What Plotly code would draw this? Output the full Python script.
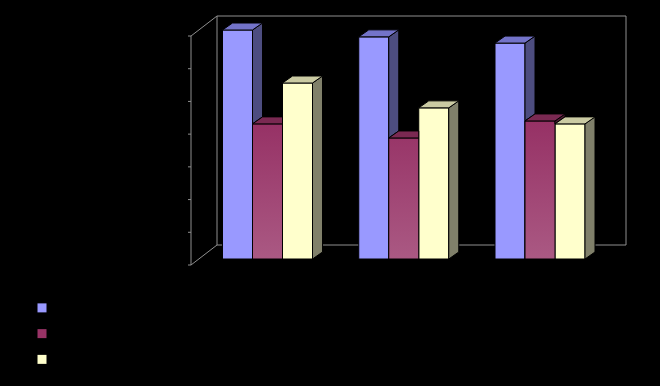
import plotly.graph_objects as go

# ---------------- data ----------------
categories = ["Category 1", "Category 2", "Category 3"]
series_names = ["Series 1", "Series 2", "Series 3"]
series1 = [70.0, 67.9, 66.0]
series2 = [41.3, 37.0, 42.2]
series3 = [53.8, 46.2, 41.3]
y_ticks = [0, 10, 20, 30, 40, 50, 60, 70]

# ---------------- style ----------------
front_colors = ["#9999ff", "#993366", "#ffffcc"]
top_colors = ["#7373c9", "#7a2952", "#cbcba3"]
side_colors = ["#4d4d80", "#4d1a33", "#80806a"]
wall_color = "#8f8f8f"

W, H = 660, 386
PXX = 136.25          # pixels per category unit
PXY = 229.0 / 70.0    # pixels per value unit
X0_PX = 267.5         # pixel x of category 0 centre
Y0_PX = 259.0         # pixel y of value 0 (bar base)

BAR_W = 30.0 / PXX
DX = 10.0 / PXX       # depth offset (x)
DY = 7.0 / PXY        # depth offset (y)

# wall geometry (relative to bar depth)
FRONT_DX, FRONT_DY = (191 - X0_PX) / PXX, -6.0 / PXY
BACK_DX, BACK_DY = (217 - X0_PX) / PXX, 14.0 / PXY
RIGHT_X = (626 - X0_PX) / PXX
VMAX = y_ticks[-1]

series = [series1, series2, series3]
xs = list(range(len(categories)))

fig = go.Figure()

# front faces as bars
for i, vals in enumerate(series):
    fig.add_trace(go.Bar(
        x=xs, y=vals, width=BAR_W, offset=(-1.5 + i) * BAR_W,
        marker=dict(color=front_colors[i], line=dict(color="black", width=1)),
        name=series_names[i], showlegend=False, hoverinfo="skip"))

# gradient overlay for the second series' front faces
gx, gy = [], []
for k in xs:
    xl = k + (-1.5 + 1) * BAR_W
    xr = xl + BAR_W
    h = series2[k]
    gx += [xl, xr, xr, xl, xl, None]
    gy += [0, 0, h, h, 0, None]
fig.add_trace(go.Scatter(
    x=gx, y=gy, mode="lines", fill="toself",
    fillgradient=dict(type="vertical", start=0, stop=max(series2),
                      colorscale=[[0, "#aa5983"], [1, "#963165"]]),
    line=dict(color="black", width=1), showlegend=False, hoverinfo="skip"))

# 3-D side and top faces (clipped by the neighbouring bar in front-right)
for k in xs:
    for i in range(len(series)):
        h = series[i][k]
        xl = k + (-1.5 + i) * BAR_W
        xr = xl + BAR_W
        hn = series[i + 1][k] if i + 1 < len(series) else None
        # side face
        if hn is None:
            sx = [xr, xr + DX, xr + DX, xr, xr]
            sy = [0, DY, h + DY, h, 0]
        elif h > hn:
            sx = [xr, xr + DX, xr + DX, xr, xr]
            sy = [hn, hn + DY, h + DY, h, hn]
        else:
            sx = sy = None
        if sx is not None:
            fig.add_trace(go.Scatter(
                x=sx, y=sy, mode="lines", fill="toself", fillcolor=side_colors[i],
                line=dict(color="black", width=1), showlegend=False, hoverinfo="skip"))
        # top face
        if hn is None or hn <= h:
            tx = [xl, xr, xr + DX, xl + DX, xl]
            ty = [h, h, h + DY, h + DY, h]
        elif hn >= h + DY:
            tx = [xl, xr, xr, xl + DX, xl]
            ty = [h, h, h + DY, h + DY, h]
        else:
            xm = xr + DX * (hn - h) / DY
            tx = [xl, xr, xr, xm, xr + DX, xl + DX, xl]
            ty = [h, h, hn, hn, h + DY, h + DY, h]
        fig.add_trace(go.Scatter(
            x=tx, y=ty, mode="lines", fill="toself", fillcolor=top_colors[i],
            line=dict(color="black", width=1), showlegend=False, hoverinfo="skip"))

# legend entries
for i in range(len(series)):
    fig.add_trace(go.Scatter(
        x=[None], y=[None], mode="markers", name=series_names[i],
        marker=dict(symbol="square", size=9, color=front_colors[i],
                    line=dict(width=0))))

# walls
line = dict(color=wall_color, width=1)
shapes = [
    # back wall
    dict(type="line", x0=BACK_DX, x1=RIGHT_X, y0=VMAX + BACK_DY, y1=VMAX + BACK_DY, line=line),
    dict(type="line", x0=RIGHT_X, x1=RIGHT_X, y0=BACK_DY, y1=VMAX + BACK_DY, line=line),
    dict(type="line", x0=BACK_DX, x1=RIGHT_X, y0=BACK_DY, y1=BACK_DY, line=line),
    dict(type="line", x0=BACK_DX, x1=BACK_DX, y0=BACK_DY, y1=VMAX + BACK_DY, line=line),
    # left wall
    dict(type="line", x0=FRONT_DX, x1=FRONT_DX, y0=FRONT_DY, y1=VMAX + FRONT_DY, line=line),
    dict(type="line", x0=FRONT_DX, x1=BACK_DX, y0=VMAX + FRONT_DY, y1=VMAX + BACK_DY, line=line),
    dict(type="line", x0=FRONT_DX, x1=BACK_DX, y0=FRONT_DY, y1=BACK_DY, line=line),
]
for t in y_ticks:
    shapes.append(dict(type="line", x0=FRONT_DX - 3.0 / PXX, x1=FRONT_DX,
                       y0=t + FRONT_DY, y1=t + FRONT_DY, line=line))
for s in shapes:
    s["layer"] = "below"

# category labels (black, as in the reference), placed below the floor
annotations = [dict(x=k, y=FRONT_DY - 4.0, text=c, showarrow=False, yanchor="top",
                    font=dict(color="black", size=11, family="Arial"))
               for k, c in zip(xs, categories)]

fig.update_layout(
    width=W, height=H,
    margin=dict(l=0, r=0, t=0, b=0, autoexpand=False),
    paper_bgcolor="black", plot_bgcolor="black",
    shapes=shapes, annotations=annotations,
    showlegend=True,
    legend=dict(x=22.0 / W, y=1 - 290.0 / H, xanchor="left", yanchor="top",
                font=dict(color="black", size=17.5, family="Arial"),
                bgcolor="rgba(0,0,0,0)", borderwidth=0, tracegroupgap=0),
    xaxis=dict(range=[(0 - X0_PX) / PXX, (W - X0_PX) / PXX], showgrid=False,
               zeroline=False, showline=False, showticklabels=False, fixedrange=True),
    yaxis=dict(range=[(Y0_PX - H) / PXY, Y0_PX / PXY], showgrid=False,
               zeroline=False, showline=False, showticklabels=False, fixedrange=True),
)

fig.write_html("out.html")
